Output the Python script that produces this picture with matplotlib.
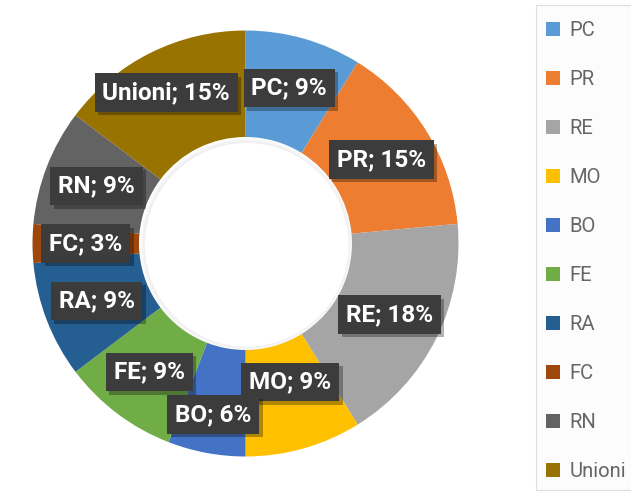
import matplotlib
matplotlib.use("Agg")
import matplotlib.pyplot as plt
import matplotlib.patheffects as pe
import numpy as np
from matplotlib.patches import Circle, Rectangle

categories = ["PC", "PR", "RE", "MO", "BO", "FE", "RA", "FC", "RN", "Unioni"]
counts = [3, 5, 6, 3, 2, 3, 3, 1, 3, 5]
colors = ["#5B9BD5", "#ED7D31", "#A5A5A5", "#FFC000", "#4472C4",
          "#70AD47", "#255E91", "#9E480E", "#636363", "#997300"]
# manual label nudges (pixels, right / down) as done in the source chart
label_nudge = [(0, -2), (0, 0), (1, 0), (1, -15), (-3, 14),
               (0, 1), (0, 0), (0, 0), (0, 0), (-8, -8)]

W, H = 631, 492
fig = plt.figure(figsize=(W / 100, H / 100), dpi=100)
fig.patch.set_facecolor("white")

cx, cy, R = 245.5, 243.5, 213.0
ax = fig.add_axes([(cx - R) / W, (H - cy - R) / H, 2 * R / W, 2 * R / H])

wedges, _ = ax.pie(counts, colors=colors, startangle=90, counterclock=False,
                   radius=1.0, wedgeprops=dict(width=0.5, linewidth=0),
                   center=(0, 0), frame=False)
ax.set_xlim(-1, 1)
ax.set_ylim(-1, 1)
ax.set_aspect("equal")
ax.axis("off")

# very subtle inner shadow in the hole
for i in range(5):
    ax.add_patch(Circle((0.004, -0.004), 0.5 - i * 0.004, facecolor="#000000",
                        alpha=0.012, linewidth=0, zorder=2))
ax.add_patch(Circle((0.006, -0.006), 0.478, facecolor="white", linewidth=0, zorder=3))

total = sum(counts)
cum = 0
for cat, c, (nx, ny) in zip(categories, counts, label_nudge):
    mid = cum + c / 2
    cum += c
    ang = np.deg2rad(90 - mid / total * 360)
    x = 0.75 * np.cos(ang) + nx / R
    y = 0.75 * np.sin(ang) - ny / R
    pct = round(c / total * 100)
    label = f"{cat}; {pct}%"
    t = ax.text(x, y, label, ha="center", va="center", fontsize=17.5,
                fontweight="bold", family="Roboto", color="white",
                bbox=dict(boxstyle="square,pad=0.32", facecolor="#3c3c3c",
                          linewidth=0), zorder=6)
    t.get_bbox_patch().set_path_effects(
        [pe.SimplePatchShadow(offset=(2.5, -2.5), shadow_rgbFace="black", alpha=0.3),
         pe.Normal()])

# legend background box
fig.add_artist(Rectangle((536 / W, 2 / H), (W - 536 + 5) / W, (H - 7) / H,
                         transform=fig.transFigure, facecolor="#fcfcfc",
                         edgecolor="#dedede", linewidth=0.8, zorder=0))

leg = fig.legend(wedges, categories, loc="upper left",
                 bbox_to_anchor=(537 / W, 1 - 12 / H), frameon=False,
                 labelcolor="#666666",
                 handlelength=0.7, handleheight=0.7, handletextpad=0.45,
                 labelspacing=1.48, borderpad=0.45, borderaxespad=0,
                 prop={"family": "Roboto", "size": 14.6})

fig.savefig("out.png", dpi=100)
